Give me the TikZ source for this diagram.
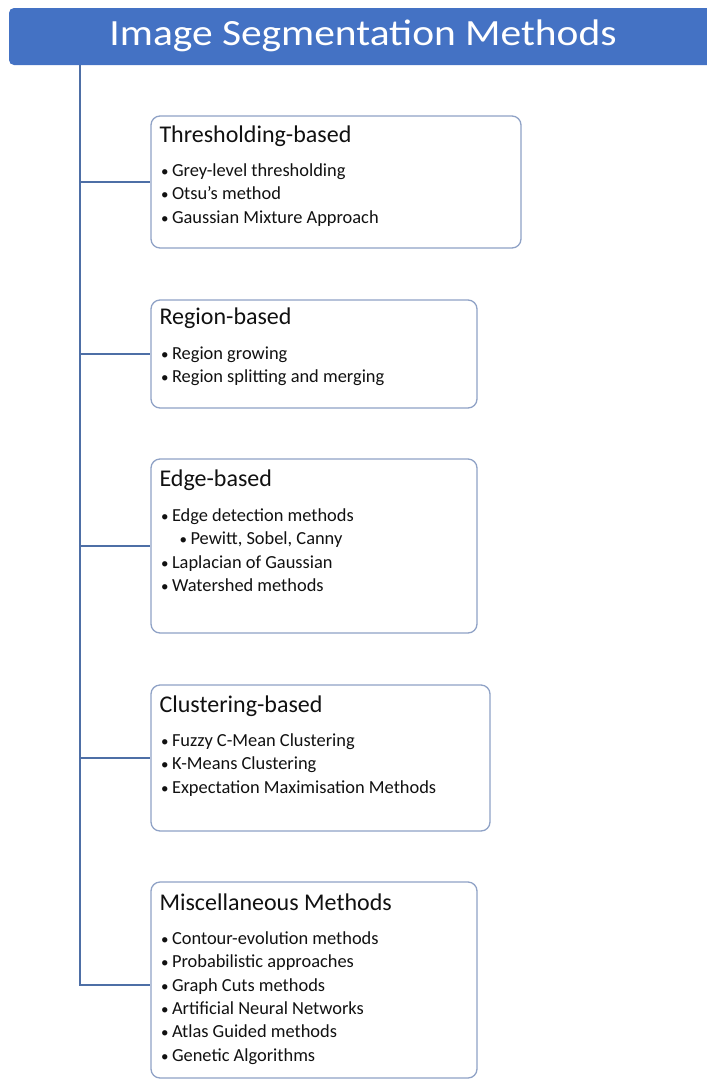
\documentclass[tikz,border=0pt]{standalone}
\usepackage{fontspec}
\setmainfont{Carlito}
\newfontfamily\titlefont[FakeStretch=1.12]{Carlito}
\usetikzlibrary{calc}
\definecolor{barblue}{HTML}{4472C4}
\definecolor{spineblue}{HTML}{4E6FA6}
\definecolor{boxedge}{HTML}{8FA2C6}
\definecolor{txt}{HTML}{111111}
\tikzset{
  catbox/.style={draw=boxedge, line width=1.3pt, rounded corners=9pt, fill=white, inner sep=0pt},
  headtxt/.style={anchor=base west, inner sep=0pt, text=txt, font=\fontsize{24}{28}\selectfont},
  itemtxt/.style={anchor=base west, inner sep=0pt, text=txt, align=left, font=\fontsize{18.4}{23.4}\selectfont},
  link/.style={draw=spineblue, line width=1.5pt},
}
\newcommand{\bul}{{\fontsize{15}{23.4}\selectfont\textbullet}\hspace{3.5pt}}
\newcommand{\subbul}{\hspace{18.5pt}\bul}
\begin{document}
\begin{tikzpicture}[x=1pt,y=-1pt]
\useasboundingbox (0,0) rectangle (707,1080);
% title bar
\node[fill=barblue, rounded corners=5pt, minimum width=711pt, minimum height=57pt, inner sep=0pt] (bar) at (364.5,36.5) {};
\node[anchor=base, inner sep=0pt, text=white, font=\titlefont\fontsize{37}{40}\selectfont] (title) at (363,45) {Image Segmentation Methods};
% spine
\coordinate (top) at (80,65);
% boxes
\node[catbox, minimum width=370pt, minimum height=132pt] (b1) at (336,182) {};
\node[catbox, minimum width=326pt, minimum height=108pt] (b2) at (314,354) {};
\node[catbox, minimum width=326pt, minimum height=174pt] (b3) at (314,546) {};
\node[catbox, minimum width=339pt, minimum height=146pt] (b4) at (320.5,758) {};
\node[catbox, minimum width=326pt, minimum height=196pt] (b5) at (314,980) {};
% connectors
\draw[link] (top) |- ([yshift=-5pt]b5.west);
\draw[link] (top |- b1.west) -- (b1.west);
\draw[link] (top |- b2.west) -- (b2.west);
\draw[link] (top |- b3.west) -- (b3.west);
\draw[link] (top |- b4.west) -- (b4.west);
% texts (item blocks are anchored at the baseline of their last line)
\node[headtxt] (h1) at ($(b1.north west)+(9,27)$) {Thresholding-based};
\node[itemtxt] (i1) at ($(h1.base west)+(1.5,34+2*23.4)$) {\bul Grey-level thresholding\\ \bul Otsu's method\\ \bul Gaussian Mixture Approach};
\node[headtxt] (h2) at ($(b2.north west)+(9,25)$) {Region-based};
\node[itemtxt] (i2) at ($(h2.base west)+(1.5,35+1*23.4)$) {\bul Region growing\\ \bul Region splitting and merging};
\node[headtxt] (h3) at ($(b3.north west)+(9,28)$) {Edge-based};
\node[itemtxt] (i3) at ($(h3.base west)+(1.5,35+3*23.4)$) {\bul Edge detection methods\\ \subbul Pewitt, Sobel, Canny\\ \bul Laplacian of Gaussian\\ \bul Watershed methods};
\node[headtxt] (h4) at ($(b4.north west)+(9,28)$) {Clustering-based};
\node[itemtxt] (i4) at ($(h4.base west)+(1.5,34+2*23.4)$) {\bul Fuzzy C-Mean Clustering\\ \bul K-Means Clustering\\ \bul Expectation Maximisation Methods};
\node[headtxt] (h5) at ($(b5.north west)+(9,29)$) {Miscellaneous Methods};
\node[itemtxt] (i5) at ($(h5.base west)+(1.5,34+5*23.4)$) {\bul Contour-evolution methods\\ \bul Probabilistic approaches\\ \bul Graph Cuts methods\\ \bul Artificial Neural Networks\\ \bul Atlas Guided methods\\ \bul Genetic Algorithms};
\end{tikzpicture}
\end{document}
